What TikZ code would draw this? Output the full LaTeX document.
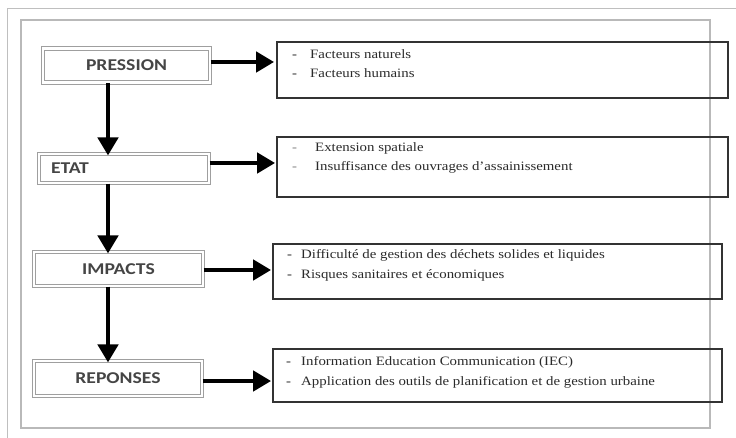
\documentclass[tikz,border=0pt]{standalone}
\usepackage{fontspec}
\setmainfont{Liberation Serif}[FakeStretch=1.16]
\newfontfamily\labfont{Carlito}[FakeStretch=1.19]
\usetikzlibrary{arrows.meta}
\definecolor{txt}{HTML}{2A2A2A}
\definecolor{labtxt}{HTML}{454545}
\begin{document}
\begin{tikzpicture}[x=1pt,y=-1pt,
  lbox/.style={draw=gray!75, double=white, double distance=2.6pt, line width=1.1pt,
    inner sep=0pt, font=\labfont\bfseries\fontsize{16.5}{18}\selectfont, text=labtxt},
  rbox/.style={draw=black!80, line width=1.8pt, inner sep=0pt},
  arr/.style={line width=4.5pt, -{Triangle[length=18pt,width=20pt]}},
  item/.style={anchor=base west, inner sep=0pt, font=\fontsize{12.8}{14}\selectfont, text=txt}]
\fill[white] (0,0) rectangle (736,438);
\useasboundingbox (0,0) rectangle (736,438);
% frames
\draw[gray!50, line width=1pt] (7,438) -- (7,9) -- (736,9);
\draw[gray!55, line width=1.5pt] (21,20) rectangle (710,428);
% left boxes
\node[lbox, minimum width=167pt, minimum height=34pt] (pression) at (126.5,65.5) {PRESSION};
\node[lbox, minimum height=29pt, inner xsep=12pt, text width=146pt, align=left] (etat) at (124,168.5) {ETAT};
\node[lbox, minimum width=169pt, minimum height=34pt] (impacts) at (118.5,269) {IMPACTS};
\node[lbox, minimum width=168pt, minimum height=35pt] (reponses) at (118,378.5) {REPONSES};
% right boxes
\node[rbox, minimum width=451pt, minimum height=56pt] (b1) at (502.5,70) {};
\node[rbox, minimum width=451pt, minimum height=60pt] (b2) at (502.5,167) {};
\node[rbox, minimum width=449pt, minimum height=55pt] (b3) at (497.5,271.5) {};
\node[rbox, minimum width=449pt, minimum height=53pt] (b4) at (497.5,375.5) {};
% items
\node[item] (d11) at (292,58.7) {-};
\node[item] (t11) at (310,58.7) {Facteurs naturels};
\node[item] (d12) at (292,78) {-};
\node[item] (t12) at (310,78) {Facteurs humains};
\node[item, text=gray] (d21) at (292,152) {-};
\node[item] (t21) at (315,152) {Extension spatiale};
\node[item, text=gray] (d22) at (292,171) {-};
\node[item] (t22) at (315,171) {Insuffisance des ouvrages d’assainissement};
\node[item] (d31) at (287,259) {-};
\node[item] (t31) at (301,259) {Difficulté de gestion des déchets solides et liquides};
\node[item] (d32) at (287,279) {-};
\node[item] (t32) at (301,279) {Risques sanitaires et économiques};
\node[item] (d41) at (286,365) {-};
\node[item] (t41) at (301,365) {Information Education Communication (IEC)};
\node[item] (d42) at (286,385) {-};
\node[item] (t42) at (301,385) {Application des outils de planification et de gestion urbaine};
% arrows
\coordinate (ax) at (108,0);
\coordinate (y1) at (0,62);
\coordinate (y2) at (0,163);
\coordinate (y3) at (0,270);
\coordinate (y4) at (0,381);
\draw[arr] (pression.south -| ax) -- ([yshift=-2pt]etat.north -| ax);
\draw[arr] (etat.south -| ax) -- ([yshift=-2pt]impacts.north -| ax);
\draw[arr] (impacts.south -| ax) -- ([yshift=-2pt]reponses.north -| ax);
\draw[arr] (pression.east |- y1) -- ([xshift=-2pt]b1.west |- y1);
\draw[arr] (etat.east |- y2) -- ([xshift=-1pt]b2.west |- y2);
\draw[arr] (impacts.east |- y3) -- ([xshift=-1pt]b3.west |- y3);
\draw[arr] (reponses.east |- y4) -- ([xshift=-1pt]b4.west |- y4);
\end{tikzpicture}
\end{document}
